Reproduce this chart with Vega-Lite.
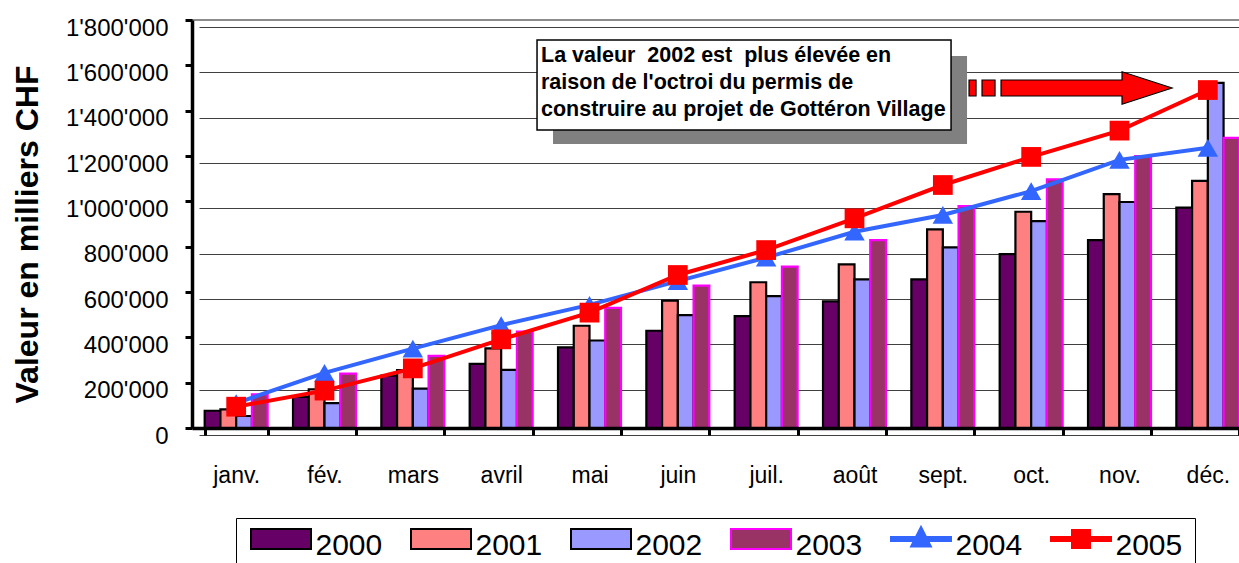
{
  "$schema": "https://vega.github.io/schema/vega-lite/v6.json",
  "width": 1060,
  "height": 408,
  "autosize": {"type": "none"},
  "padding": {"left": 192, "top": 20, "right": -13, "bottom": 135},
  "background": "white",
  "config": {
    "font": "Liberation Sans",
    "view": {"stroke": "#8c8c8c", "strokeWidth": 2},
    "legend": {
      "title": null, "orient": "none", "legendX": 44, "legendY": 498,
      "direction": "horizontal", "columns": 6,
      "symbolSize": 3600, "symbolStrokeWidth": 2, "symbolOffset": 2, "symbolOpacity": 1,
      "labelFontSize": 30, "labelColor": "#000000", "labelOffset": 3.5, "labelBaseline": "bottom",
      "columnPadding": 24, "padding": 12,
      "strokeColor": "#000000", "fillColor": "white"
    }
  },
  "datasets": {
    "sales": [
      {"month": "janv.", "year": "2000", "value": 76000},
      {"month": "fév.", "year": "2000", "value": 137000},
      {"month": "mars", "year": "2000", "value": 231000},
      {"month": "avril", "year": "2000", "value": 283000},
      {"month": "mai", "year": "2000", "value": 356000},
      {"month": "juin", "year": "2000", "value": 429000},
      {"month": "juil.", "year": "2000", "value": 494000},
      {"month": "août", "year": "2000", "value": 559000},
      {"month": "sept.", "year": "2000", "value": 656000},
      {"month": "oct.", "year": "2000", "value": 767000},
      {"month": "nov.", "year": "2000", "value": 829000},
      {"month": "déc.", "year": "2000", "value": 972000},
      {"month": "janv.", "year": "2001", "value": 82000},
      {"month": "fév.", "year": "2001", "value": 171000},
      {"month": "mars", "year": "2001", "value": 255000},
      {"month": "avril", "year": "2001", "value": 351000},
      {"month": "mai", "year": "2001", "value": 451000},
      {"month": "juin", "year": "2001", "value": 562000},
      {"month": "juil.", "year": "2001", "value": 643000},
      {"month": "août", "year": "2001", "value": 722000},
      {"month": "sept.", "year": "2001", "value": 876000},
      {"month": "oct.", "year": "2001", "value": 954000},
      {"month": "nov.", "year": "2001", "value": 1032000},
      {"month": "déc.", "year": "2001", "value": 1090000},
      {"month": "janv.", "year": "2002", "value": 53000},
      {"month": "fév.", "year": "2002", "value": 110000},
      {"month": "mars", "year": "2002", "value": 174000},
      {"month": "avril", "year": "2002", "value": 256000},
      {"month": "mai", "year": "2002", "value": 386000},
      {"month": "juin", "year": "2002", "value": 498000},
      {"month": "juil.", "year": "2002", "value": 582000},
      {"month": "août", "year": "2002", "value": 656000},
      {"month": "sept.", "year": "2002", "value": 797000},
      {"month": "oct.", "year": "2002", "value": 913000},
      {"month": "nov.", "year": "2002", "value": 997000},
      {"month": "déc.", "year": "2002", "value": 1523000},
      {"month": "janv.", "year": "2003", "value": 149000},
      {"month": "fév.", "year": "2003", "value": 240000},
      {"month": "mars", "year": "2003", "value": 318000},
      {"month": "avril", "year": "2003", "value": 425000},
      {"month": "mai", "year": "2003", "value": 530000},
      {"month": "juin", "year": "2003", "value": 628000},
      {"month": "juil.", "year": "2003", "value": 712000},
      {"month": "août", "year": "2003", "value": 829000},
      {"month": "sept.", "year": "2003", "value": 979000},
      {"month": "oct.", "year": "2003", "value": 1097000},
      {"month": "nov.", "year": "2003", "value": 1200000},
      {"month": "déc.", "year": "2003", "value": 1280000},
      {"month": "janv.", "year": "2004", "value": 110000},
      {"month": "fév.", "year": "2004", "value": 243000},
      {"month": "mars", "year": "2004", "value": 350000},
      {"month": "avril", "year": "2004", "value": 454000},
      {"month": "mai", "year": "2004", "value": 543000},
      {"month": "juin", "year": "2004", "value": 648000},
      {"month": "juil.", "year": "2004", "value": 752000},
      {"month": "août", "year": "2004", "value": 866000},
      {"month": "sept.", "year": "2004", "value": 940000},
      {"month": "oct.", "year": "2004", "value": 1045000},
      {"month": "nov.", "year": "2004", "value": 1183000},
      {"month": "déc.", "year": "2004", "value": 1236000},
      {"month": "janv.", "year": "2005", "value": 94000},
      {"month": "fév.", "year": "2005", "value": 165000},
      {"month": "mars", "year": "2005", "value": 263000},
      {"month": "avril", "year": "2005", "value": 391000},
      {"month": "mai", "year": "2005", "value": 509000},
      {"month": "juin", "year": "2005", "value": 675000},
      {"month": "juil.", "year": "2005", "value": 785000},
      {"month": "août", "year": "2005", "value": 925000},
      {"month": "sept.", "year": "2005", "value": 1072000},
      {"month": "oct.", "year": "2005", "value": 1196000},
      {"month": "nov.", "year": "2005", "value": 1312000},
      {"month": "déc.", "year": "2005", "value": 1491000}
    ],
    "notes": [
      {"kind": "shadow", "x": 4.087, "x2": 8.774, "y": 1641000, "y2": 1253000},
      {"kind": "box", "x": 3.906, "x2": 8.593, "y": 1712000, "y2": 1315000},
      {"kind": "text", "x": 3.951, "y": 1616000, "label": "La valeur \u00a02002 est \u00a0plus élevée en\nraison de l'octroi du permis de\nconstruire au projet de Gottéron Village"},
      {"kind": "arrow", "x": 9.94, "y": 1500000}
    ]
  },
  "layer": [
    {
      "data": {"name": "sales"},
      "layer": [
        {
          "transform": [{"filter": {"field": "year", "oneOf": ["2000", "2001", "2002", "2003"]}}],
          "mark": {"type": "bar", "strokeWidth": 2.2},
          "encoding": {
            "x": {
              "field": "month", "type": "nominal",
              "sort": ["janv.", "fév.", "mars", "avril", "mai", "juin", "juil.", "août", "sept.", "oct.", "nov.", "déc."],
              "scale": {"paddingInner": 0.287, "paddingOuter": 0.1435},
              "axis": {
                "title": null, "labelAngle": 0, "labelFontSize": 23, "labelColor": "#000000",
                "labelPadding": 29, "tickSize": 7, "tickWidth": 3, "tickColor": "#000000",
                "tickBand": "extent", "domainColor": "#000000", "domainWidth": 3.5,
                "grid": false, "zindex": 1
              }
            },
            "xOffset": {"field": "year", "type": "nominal", "scale": {"paddingInner": 0, "paddingOuter": 0}},
            "y": {
              "field": "value", "type": "quantitative",
              "scale": {"domain": [0, 1800000], "nice": false},
              "axis": {
                "title": "Valeur en milliers CHF", "titleFontSize": 32, "titleFontWeight": "bold",
                "titleColor": "#000000", "titlePadding": 21, "titleY": 214,
                "values": [0, 200000, 400000, 600000, 800000, 1000000, 1200000, 1400000, 1600000, 1800000],
                "labelExpr": "replace(replace(format(datum.value, ','), ',', \"'\"), ',', \"'\")",
                "labelFontSize": 24, "labelColor": "#000000", "labelPadding": 17, "labelOffset": 8,
                "tickSize": 7, "tickWidth": 3, "tickColor": "#000000",
                "domainColor": "#000000", "domainWidth": 3.5, "grid": false, "zindex": 1
              }
            },
            "color": {
              "field": "year", "type": "nominal",
              "scale": {
                "domain": ["2000", "2001", "2002", "2003", "2004", "2005"],
                "range": ["#660066", "#FF8080", "#9999FF", "#993366", "#3366FF", "#FF0000"]
              }
            },
            "stroke": {"condition": {"test": "datum.year === '2003'", "value": "#FF00FF"}, "value": "#000000"}
          }
        },
        {
          "transform": [{"filter": {"field": "year", "oneOf": ["2004", "2005"]}}],
          "mark": {"type": "line", "strokeWidth": 4},
          "encoding": {
            "x": {"field": "month", "type": "nominal", "sort": ["janv.", "fév.", "mars", "avril", "mai", "juin", "juil.", "août", "sept.", "oct.", "nov.", "déc."]},
            "y": {"field": "value", "type": "quantitative"},
            "stroke": {
              "field": "year", "type": "nominal",
              "scale": {
                "domain": ["2000", "2001", "2002", "2003", "2004", "2005"],
                "range": ["#000000", "#000000", "#000000", "#FF00FF", "#3366FF", "#FF0000"]
              }
            }
          }
        },
        {
          "transform": [{"filter": {"field": "year", "oneOf": ["2004", "2005"]}}],
          "mark": {"type": "point", "filled": true, "opacity": 1, "strokeWidth": 0},
          "encoding": {
            "x": {"field": "month", "type": "nominal", "sort": ["janv.", "fév.", "mars", "avril", "mai", "juin", "juil.", "août", "sept.", "oct.", "nov.", "déc."]},
            "y": {"field": "value", "type": "quantitative"},
            "color": {"field": "year", "type": "nominal"},
            "shape": {"condition": {"test": "datum.year === '2004'", "value": "triangle-up"}, "value": "square"},
            "size": {"condition": {"test": "datum.year === '2004'", "value": 420}, "value": 390}
          }
        },
        {
          "mark": {"type": "point", "filled": true, "opacity": 0},
          "encoding": {
            "x": {"field": "month", "type": "nominal", "sort": ["janv.", "fév.", "mars", "avril", "mai", "juin", "juil.", "août", "sept.", "oct.", "nov.", "déc."]},
            "y": {"field": "value", "type": "quantitative"},
            "shape": {
              "field": "year", "type": "nominal",
              "scale": {
                "domain": ["2000", "2001", "2002", "2003", "2004", "2005"],
                "range": [
                  "M-1,-1.067H1V-0.4H-1Z",
                  "M-1,-1.067H1V-0.4H-1Z",
                  "M-1,-1.067H1V-0.4H-1Z",
                  "M-1,-1.067H1V-0.4H-1Z",
                  "M-1,-0.8H1V-0.667H-1Z M0,-1.133L0.33,-0.483H-0.33Z",
                  "M-1,-0.8H1V-0.667H-1Z M-0.3,-1.033H0.3V-0.433H-0.3Z"
                ]
              }
            }
          }
        }
      ]
    },
    {
      "data": {"name": "notes"},
      "layer": [
        {
          "transform": [{"filter": "datum.kind === 'shadow'"}],
          "mark": {"type": "rect", "color": "#808080"},
          "encoding": {
            "x": {"field": "x", "type": "quantitative", "scale": {"domain": [0, 12], "nice": false, "zero": false}, "axis": null},
            "x2": {"field": "x2"},
            "y": {
              "field": "y", "type": "quantitative",
              "axis": {
                "orient": "left", "title": null, "labels": false, "ticks": false, "domain": false,
                "grid": true, "gridColor": "#000000", "gridWidth": 1, "gridOpacity": 0.75, "translate": 7.5,
                "values": [0, 200000, 400000, 600000, 800000, 1000000, 1200000, 1400000, 1600000, 1800000]
              }
            },
            "y2": {"field": "y2"}
          }
        },
        {
          "transform": [{"filter": "datum.kind === 'box'"}],
          "mark": {"type": "rect", "fill": "white", "stroke": "#000000", "strokeWidth": 1.5},
          "encoding": {
            "x": {"field": "x", "type": "quantitative"},
            "x2": {"field": "x2"},
            "y": {"field": "y", "type": "quantitative"},
            "y2": {"field": "y2"}
          }
        },
        {
          "transform": [{"filter": "datum.kind === 'text'"}],
          "mark": {"type": "text", "align": "left", "baseline": "alphabetic", "fontSize": 21.5, "fontWeight": "bold", "lineHeight": 27, "lineBreak": "\n", "color": "#000000"},
          "encoding": {
            "x": {"field": "x", "type": "quantitative"},
            "y": {"field": "y", "type": "quantitative"},
            "text": {"field": "label"}
          }
        },
        {
          "transform": [{"filter": "datum.kind === 'arrow'"}],
          "mark": {
            "type": "point", "filled": true, "opacity": 1, "size": 400,
            "shape": "M-10.1,-0.8H-9.4V0.8H-10.1Z M-8.8,-0.8H-7.5V0.8H-8.8Z M-6.9,-0.8H5.2V-1.62L10.2,0L5.2,1.62V0.8H-6.9Z",
            "fill": "#FF0000", "stroke": "#000000", "strokeWidth": 1.2
          },
          "encoding": {
            "x": {"field": "x", "type": "quantitative"},
            "y": {"field": "y", "type": "quantitative"}
          }
        }
      ]
    }
  ],
  "resolve": {"scale": {"x": "independent"}, "axis": {"y": "independent"}}
}
